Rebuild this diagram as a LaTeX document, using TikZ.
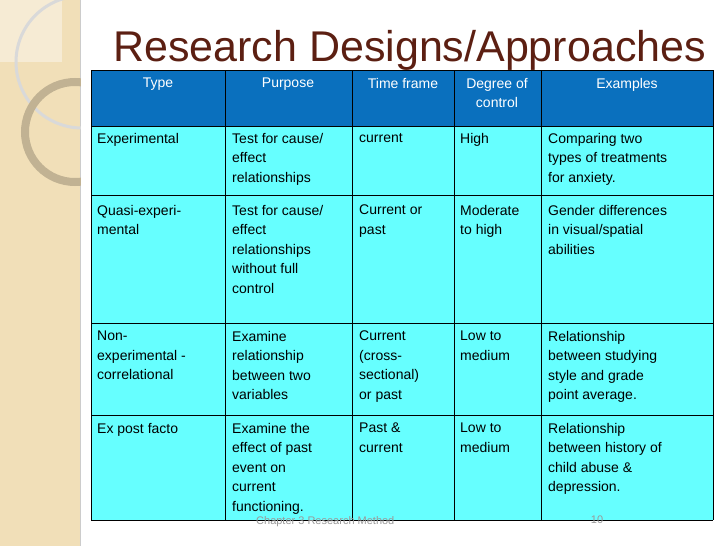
\documentclass[tikz,border=0pt]{standalone}
\usepackage{fontspec}
\setmainfont{Liberation Sans}
\definecolor{titlebrown}{HTML}{5C1F12}
\definecolor{headblue}{HTML}{0A70BE}
\definecolor{bodycyan}{HTML}{66FFFF}
\definecolor{beige}{HTML}{F1DFB8}
\begin{document}
\begin{tikzpicture}[x=1pt,y=-1pt]
    \tikzstyle{cell}=[anchor=north west,align=left,inner sep=0pt,font=\fontsize{14}{19.5}\selectfont]
    \tikzstyle{head}=[anchor=north,align=center,inner sep=0pt,text=white,font=\fontsize{14}{19.5}\selectfont]
    \tikzstyle{ring}=[draw=white!85!black,line width=3pt]
\useasboundingbox (0,0) rectangle (728,546);
% side strip
\fill[beige] (0,0) rectangle (80,546);
\draw[white!80!black,line width=1pt] (80,0) -- (80,546);
\fill[white,opacity=0.4] (0,0) rectangle (62,62);
\draw[ring] (82,62) circle (66);
\draw[ring,line width=8pt,draw=beige!80!black] (75,132) circle (50);
\fill[white] (81,0) rectangle (728,546);
\node[anchor=base west,inner sep=0pt,text=titlebrown,font=\fontsize{43}{43}\selectfont] (title) at (113,61) {Research Designs/Approaches};
% table
\fill[headblue] (91,70) rectangle (713,126);
\fill[bodycyan] (91,126) rectangle (713,520);
\foreach \y in {70,126,195,323,415,520}{
\draw[black,line width=0.8pt] (91,\y) -- (713,\y);
};
\foreach \x in {91,225,352,454,541,713}{
\draw[black,line width=0.8pt] (\x,70) -- (\x,520);
};
\node[head] (h1) at (158,78) {Type};
\node[head] (h2) at (288,78) {Purpose};
\node[head] (h3) at (403,78) {Time frame};
\node[head] (h4) at (497,78) {Degree of\\control};
\node[head] (h5) at (627,78) {Examples};
% rows
\node[cell] (a1) at (97,133) {Experimental};
\node[cell] (a2) at (232,133) {Test for cause/\\effect\\relationships};
\node[cell] (a3) at (359,133) {current};
\node[cell] (a4) at (460,133) {High};
\node[cell] (a5) at (548,133) {Comparing two\\types of treatments\\for anxiety.};
\node[cell] (b1) at (97,205) {Quasi-experi-\\mental};
\node[cell] (b2) at (232,205) {Test for cause/\\effect\\relationships\\without full\\control};
\node[cell] (b3) at (359,205) {Current or\\past};
\node[cell] (b4) at (460,205) {Moderate\\to high};
\node[cell] (b5) at (548,205) {Gender differences\\in visual/spatial\\abilities};
\node[cell] (c1) at (97,331) {Non-\\experimental -\\correlational};
\node[cell] (c2) at (232,331) {Examine\\relationship\\between two\\variables};
\node[cell] (c3) at (359,331) {Current\\(cross-\\sectional)\\or past};
\node[cell] (c4) at (460,331) {Low to\\medium};
\node[cell] (c5) at (548,331) {Relationship\\between studying\\style and grade\\point average.};
\node[cell] (d1) at (97,423) {Ex post facto};
\node[cell] (d2) at (232,423) {Examine the\\effect of past\\event on\\current\\functioning.};
\node[cell] (d3) at (359,423) {Past \&\\current};
\node[cell] (d4) at (460,423) {Low to\\medium};
\node[cell] (d5) at (548,423) {Relationship\\between history of\\child abuse \&\\depression.};
% footer
\node[anchor=north west,inner sep=0pt,text=black!40,font=\fontsize{11}{11}\selectfont] (foot) at (256,516) {Chapter 3 Research Method};
\node[anchor=north,inner sep=0pt,text=black!40,font=\fontsize{11}{11}\selectfont] (page) at (597,516) {10};
\end{tikzpicture}
\end{document}
